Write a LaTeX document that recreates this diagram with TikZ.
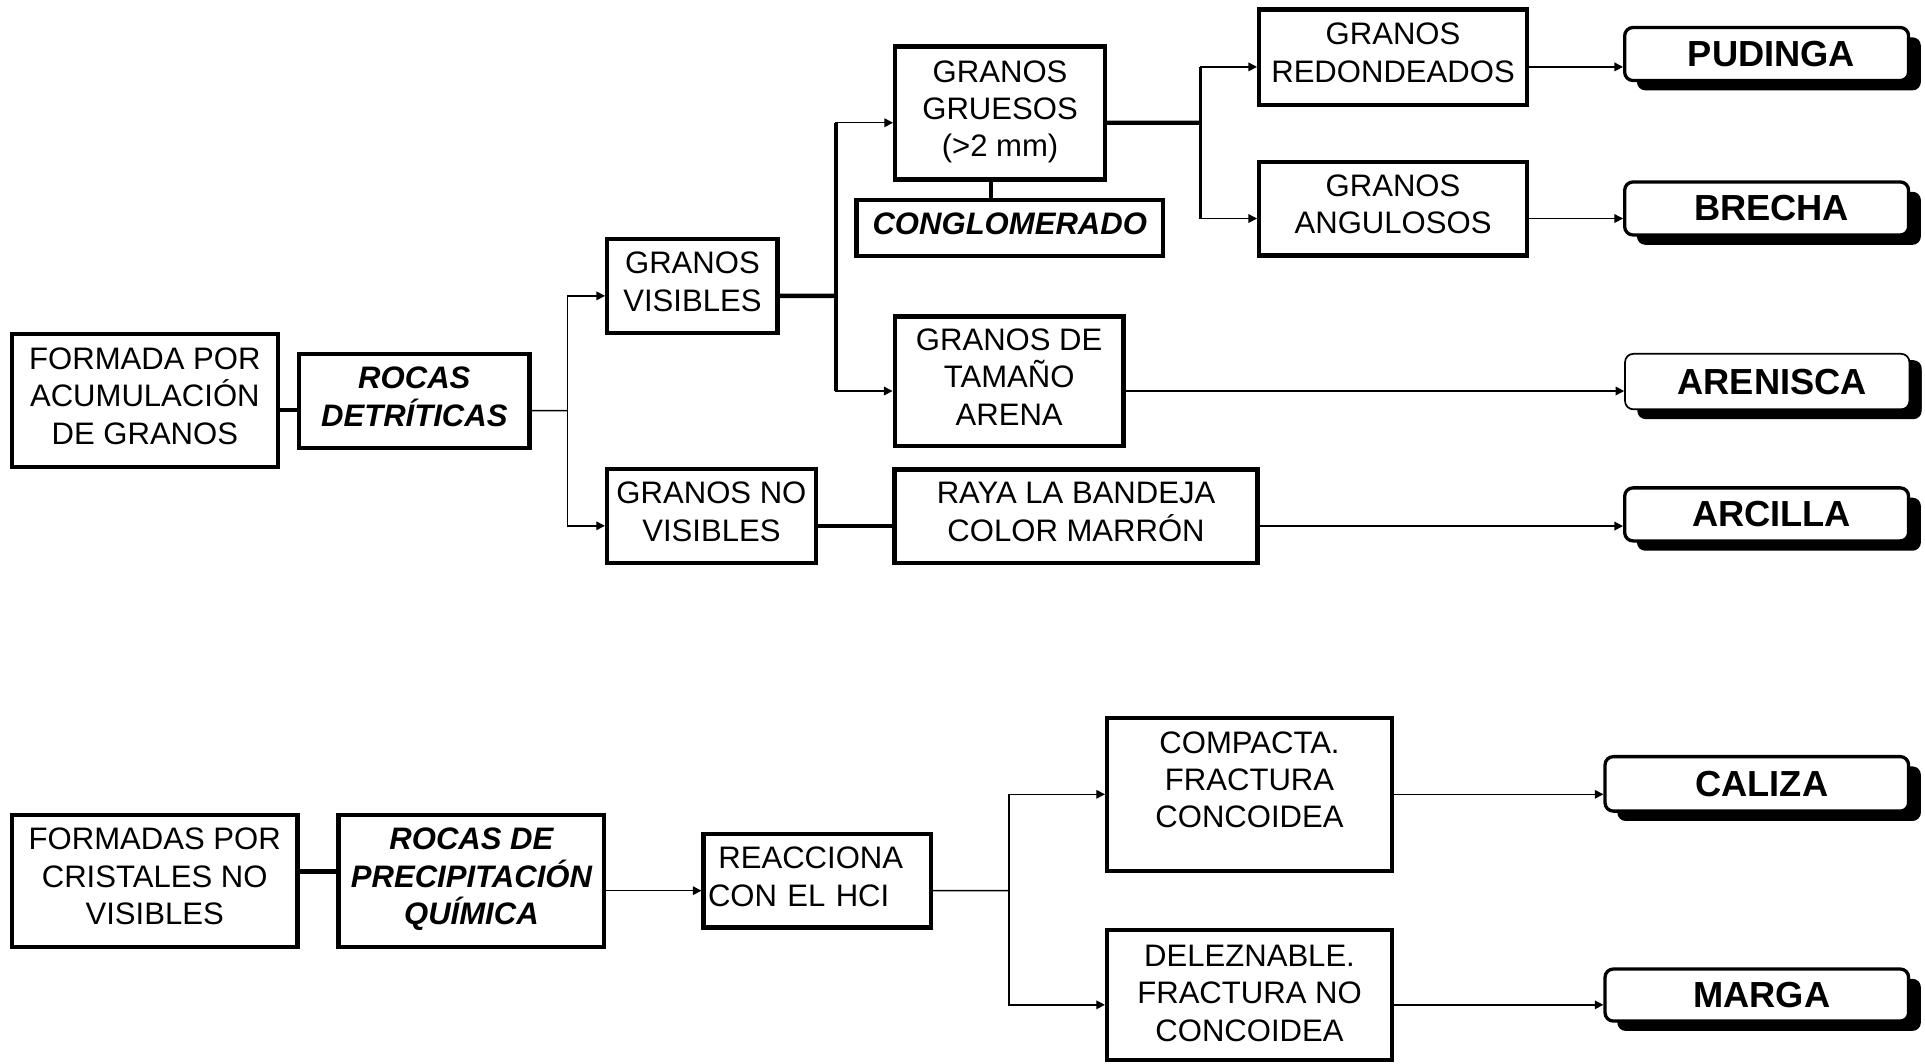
\documentclass[tikz,border=0pt]{standalone}
\usepackage{fontspec}
\setmainfont{Liberation Sans}
\usetikzlibrary{shapes,arrows.meta,shadows}

\newcommand\boxfont{\fontsize{18}{21.7}\selectfont}
\newcommand\rockfont{\fontsize{21}{25}\selectfont\bfseries}

\begin{document}
\begin{tikzpicture}[x=0.025cm, y=-0.025cm,
  >={Triangle[length=5pt,width=5pt]},
  box/.style={draw, line width=2.5pt, inner sep=0pt, align=center, font=\boxfont,
    execute at end node={\rule[-5pt]{0pt}{5pt}}},
  bi/.style={box, font=\boxfont\bfseries\itshape},
  txt/.style={inner sep=0pt, align=center, font=\boxfont},
  rock/.style={draw, line width=1.9pt, rounded corners=0.17cm, fill=white, inner sep=0pt,
    minimum width=5.78cm, minimum height=1.08cm, font=\rockfont,
    execute at begin node={\hspace*{0.2cm}},
    drop shadow={shadow xshift=0.25cm, shadow yshift=-0.2cm, fill=black, opacity=1}},
  heavy/.style={line width=2.5pt},
  trunk/.style={line width=1.6pt},
  conn/.style={line width=0.8pt},
  dn/.style={yshift=-0.2cm},
  hi/.style={yshift=0.19cm}]

\useasboundingbox (0,0) rectangle (1568,866);

\node[box, minimum width=5.41cm, minimum height=2.71cm] (fpor) at (118,326) {FORMADA POR\\ACUMULACIÓN\\DE GRANOS};
\node[bi, minimum width=4.69cm, minimum height=1.91cm] (rdet) at (337.5,326.5) {ROCAS\\DETRÍTICAS};
\node[box, minimum width=3.47cm, minimum height=1.91cm] (gvis) at (564,233) {GRANOS\\VISIBLES};
\node[box, minimum width=4.25cm, minimum height=1.91cm] (gnovis) at (579.5,420.3) {GRANOS NO\\VISIBLES};
\node[box, minimum width=4.27cm, minimum height=2.71cm] (ggrue) at (814.6,92) {GRANOS\\GRUESOS\\(>2 mm)};
\node[bi, minimum width=6.24cm, minimum height=1.14cm] (conglo) at (822.5,185.5) {CONGLOMERADO};
\node[box, minimum width=4.66cm, minimum height=2.64cm] (garena) at (822,310.5) {GRANOS DE\\TAMAÑO\\ARENA};
\node[box, minimum width=7.39cm, minimum height=1.90cm] (raya) at (876.5,420.5) {RAYA LA BANDEJA\\COLOR MARRÓN};
\node[box, minimum width=5.45cm, minimum height=1.94cm] (gredon) at (1134.7,46.5) {GRANOS\\REDONDEADOS};
\node[box, minimum width=5.45cm, minimum height=1.91cm] (gangul) at (1134.7,170) {GRANOS\\ANGULOSOS};

\node[rock] (pudinga) at (1439,44) {PUDINGA};
\node[rock] (brecha) at (1439,169.8) {BRECHA};
\node[rock, line width=1pt, minimum width=5.79cm, minimum height=1.13cm,
  drop shadow={shadow xshift=0.25cm, shadow yshift=-0.13cm, fill=black, opacity=1}] (arenisca) at (1439.5,310.8) {ARENISCA};
\node[rock] (arcilla) at (1439,419) {ARCILLA};

\coordinate (j1) at (462,334.5);
\coordinate (j2) at (681,241);
\coordinate (j3) at (978,100);

\draw[heavy] ([dn]fpor.east) -- ([dn]fpor.east -| rdet.west);
\draw[conn] ([dn]rdet.east) -- (j1);
\draw[conn,->] (j1) |- ([dn]gvis.west);
\draw[conn,->] (j1) |- ([dn]gnovis.west);

\draw[heavy] ([dn]gvis.east) -- (j2);
\draw[conn,->] (j2) |- ([dn]ggrue.west);
\draw[conn,->] (j2) |- ([dn]garena.west);
\draw[heavy] ([dn]ggrue.west -| j2) -- ([dn]garena.west -| j2);
\draw[heavy] ([xshift=-0.19cm]ggrue.south) -- ([xshift=-0.19cm]ggrue.south |- conglo.north);

\draw[heavy] ([dn]ggrue.east) -- (j3);
\draw[conn,->] (j3) |- ([dn]gredon.west);
\draw[conn,->] (j3) |- ([dn]gangul.west);
\draw[trunk] ([dn]gredon.west -| j3) -- ([dn]gangul.west -| j3);

\draw[conn,->] ([dn]gredon.east) -- ([dn]gredon.east -| pudinga.west);
\draw[conn,->] ([dn]gangul.east) -- ([dn]gangul.east -| brecha.west);
\draw[conn,->] ([dn]garena.east) -- ([dn]garena.east -| arenisca.west);
\draw[heavy] ([dn]gnovis.east) -- ([dn]gnovis.east -| raya.west);
\draw[conn,->] ([dn]raya.east) -- ([dn]raya.east -| arcilla.west);

% rocas de precipitacion
\node[box, minimum width=5.81cm, minimum height=2.69cm] (fcrist) at (126,717.5) {FORMADAS POR\\CRISTALES NO\\VISIBLES};
\node[bi, minimum width=5.41cm, minimum height=2.69cm] (rprec) at (384,717.5) {ROCAS DE\\PRECIPITACIÓN\\QUÍMICA};
\node[box, align=left, text width=4.45cm, inner xsep=0.09cm, minimum height=1.90cm] (reacc) at (665.75,717.5) {\ REACCIONA\\CON EL HCI};
\node[box, minimum width=5.80cm, minimum height=3.11cm] (compac) at (1017.8,647) {};
\node[txt, anchor=north] (compact) at ([yshift=-0.31cm]compac.north) {COMPACTA.\\FRACTURA\\CONCOIDEA};
\node[box, minimum width=5.80cm, minimum height=2.64cm] (delez) at (1017.8,810.5) {};
\node[txt, anchor=north] (delezt) at ([yshift=-0.335cm]delez.north) {DELEZNABLE.\\FRACTURA NO\\CONCOIDEA};

\node[rock, minimum width=6.18cm, minimum height=1.11cm] (caliza) at (1431,638.5) {CALIZA};
\node[rock, minimum width=6.18cm, minimum height=1.06cm] (marga) at (1431,810.5) {MARGA};

\coordinate (j4) at (822,725.5);

\draw[heavy] ([hi]fcrist.east) -- ([hi]fcrist.east -| rprec.west);
\draw[conn,->] ([dn]rprec.east) -- ([dn]rprec.east -| reacc.west);
\draw[conn] ([dn]reacc.east) -- (j4);
\draw[conn,->] (j4) |- (compac.west);
\draw[conn,->] (j4) |- ([dn]delez.west);
\draw[conn,->] (compac.east) -- (compac.east -| caliza.west);
\draw[conn,->] ([dn]delez.east) -- ([dn]delez.east -| marga.west);

\end{tikzpicture}
\end{document}
